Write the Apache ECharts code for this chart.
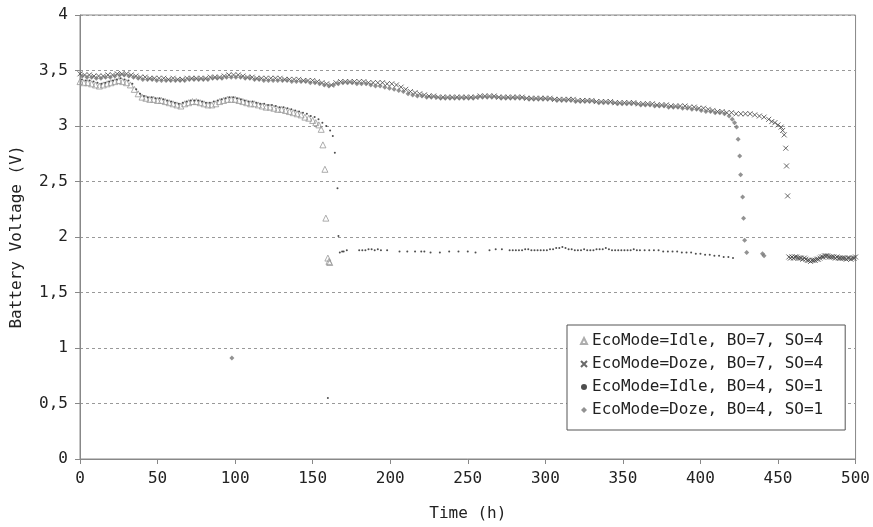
<!DOCTYPE html>
<html><head><meta charset="utf-8">
<script src="https://cdn.jsdelivr.net/npm/echarts@6/dist/echarts.min.js"></script>
<style>html,body{margin:0;padding:0;background:#fff}#c{width:873px;height:527px}</style>
</head><body><div id="c"></div>
<script>
const seriesNames = ['EcoMode=Idle, BO=7, SO=4','EcoMode=Doze, BO=7, SO=4','EcoMode=Idle, BO=4, SO=1','EcoMode=Doze, BO=4, SO=1'];
const xTicks = {min:0, max:500, step:50};
const yTicks = {min:0, max:4, step:0.5};

const idleBO7 = [[0,3.40],[2.5,3.39],[5,3.39],[7.5,3.38],[10,3.37],[12.5,3.36],[15,3.37],[17.5,3.38],[20,3.39],[22.5,3.40],[25,3.41],[27.5,3.40],[30,3.39],[32.5,3.37],[35,3.33],[37.5,3.29],[40,3.26],[42.5,3.25],[45,3.24],[47.5,3.24],[50,3.23],[52.5,3.23],[55,3.22],[57.5,3.21],[60,3.20],[62.5,3.19],[65,3.18],[67.5,3.20],[70,3.21],[72.5,3.22],[75,3.22],[77.5,3.21],[80,3.20],[82.5,3.19],[85,3.19],[87.5,3.20],[90,3.22],[92.5,3.23],[95,3.24],[97.5,3.24],[100,3.24],[102.5,3.23],[105,3.22],[107.5,3.21],[110,3.20],[112.5,3.20],[115,3.19],[117.5,3.18],[120,3.17],[122.5,3.17],[125,3.16],[127.5,3.15],[130,3.15],[132.5,3.14],[135,3.13],[137.5,3.12],[140,3.11],[142.5,3.10],[145,3.08],[147.5,3.07],[150,3.05],[152,3.03],[154,3.01],[155.5,2.97],[156.6,2.83],[157.9,2.61],[158.5,2.17],[159.8,1.81],[160.5,1.78],[161,1.77]];

const dozeBO7 = [[0,3.47],[3,3.46],[6,3.46],[9,3.45],[12,3.45],[15,3.45],[18,3.46],[21,3.46],[24,3.47],[27,3.47],[30,3.47],[33,3.46],[36,3.45],[39,3.44],[42,3.44],[45,3.43],[48,3.43],[51,3.43],[54,3.43],[57,3.42],[60,3.43],[63,3.42],[66,3.42],[69,3.43],[72,3.43],[75,3.43],[78,3.43],[81,3.43],[84,3.44],[87,3.44],[90,3.44],[93,3.45],[96,3.46],[99,3.46],[102,3.46],[105,3.45],[108,3.44],[111,3.44],[114,3.43],[117,3.43],[120,3.43],[123,3.43],[126,3.43],[129,3.43],[132,3.42],[135,3.42],[138,3.42],[141,3.42],[144,3.41],[147,3.41],[150,3.41],[153,3.40],[156,3.39],[159,3.38],[162,3.37],[165,3.39],[168,3.40],[171,3.40],[174,3.40],[177,3.40],[180,3.40],[183,3.40],[186,3.39],[189,3.39],[192,3.39],[195,3.39],[198,3.38],[201,3.38],[204,3.37],[207,3.35],[210,3.33],[213,3.31],[216,3.30],[219,3.29],[222,3.28],[225,3.27],[228,3.27],[231,3.26],[234,3.26],[237,3.26],[240,3.26],[243,3.26],[246,3.26],[249,3.26],[252,3.26],[255,3.26],[258,3.27],[261,3.27],[264,3.27],[267,3.27],[270,3.26],[273,3.26],[276,3.26],[279,3.26],[282,3.26],[285,3.26],[288,3.25],[291,3.25],[294,3.25],[297,3.25],[300,3.25],[303,3.25],[306,3.24],[309,3.24],[312,3.24],[315,3.24],[318,3.24],[321,3.23],[324,3.23],[327,3.23],[330,3.23],[333,3.22],[336,3.22],[339,3.22],[342,3.22],[345,3.21],[348,3.21],[351,3.21],[354,3.21],[357,3.21],[360,3.20],[363,3.20],[366,3.20],[369,3.20],[372,3.19],[375,3.19],[378,3.19],[381,3.18],[384,3.18],[387,3.18],[390,3.18],[393,3.17],[396,3.17],[399,3.16],[402,3.16],[405,3.15],[408,3.14],[411,3.13],[414,3.13],[417,3.12],[420,3.12],[423,3.11],[426,3.11],[429,3.11],[432,3.11],[435,3.10],[438,3.09],[441,3.08],[444,3.06],[446,3.04],[448,3.03],[450,3.01],[452,2.99],[453,2.96],[454,2.92],[455,2.80],[455.5,2.64],[456.2,2.37],[457,1.82],[458,1.81],[459,1.82],[460,1.81],[461,1.82],[462,1.82],[463,1.81],[464,1.81],[465,1.81],[466,1.80],[467,1.81],[468,1.80],[469,1.79],[470,1.79],[471,1.78],[472,1.79],[473,1.79],[474,1.79],[475,1.80],[476,1.80],[477,1.81],[478,1.82],[479,1.82],[480,1.83],[481,1.83],[482,1.83],[483,1.82],[484,1.82],[485,1.82],[486,1.82],[487,1.81],[488,1.82],[489,1.81],[490,1.81],[491,1.81],[492,1.81],[493,1.81],[494,1.80],[495,1.81],[496,1.81],[497,1.80],[498,1.81],[499,1.81],[500,1.82]];

const idleBO4 = [[1.25,3.42],[3.75,3.41],[6.25,3.41],[8.75,3.40],[11.25,3.39],[13.75,3.38],[16.25,3.39],[18.75,3.40],[21.25,3.41],[23.75,3.42],[26.25,3.43],[28.75,3.42],[31.25,3.41],[33.75,3.38],[36.25,3.33],[38.75,3.29],[41.25,3.27],[43.75,3.26],[46.25,3.26],[48.75,3.25],[51.25,3.25],[53.75,3.24],[56.25,3.23],[58.75,3.22],[61.25,3.21],[63.75,3.20],[66.25,3.21],[68.75,3.22],[71.25,3.23],[73.75,3.23],[76.25,3.23],[78.75,3.22],[81.25,3.21],[83.75,3.21],[86.25,3.22],[88.75,3.23],[91.25,3.24],[93.75,3.25],[96.25,3.26],[98.75,3.26],[101.25,3.25],[103.75,3.24],[106.25,3.23],[108.75,3.22],[111.25,3.22],[113.75,3.21],[116.25,3.20],[118.75,3.20],[121.25,3.19],[123.75,3.19],[126.25,3.18],[128.75,3.17],[131.25,3.17],[133.75,3.16],[136.25,3.15],[138.75,3.14],[141.25,3.13],[143.75,3.12],[146.25,3.11],[148.75,3.09],[151.25,3.08],[153.75,3.06],[156.25,3.03],[158.75,3.00],[159.8,0.55],[161.25,2.96],[163,2.91],[164.3,2.76],[166,2.44],[166.6,2.01],[167.5,1.86],[169,1.87],[170,1.87],[172,1.88],[180,1.88],[182,1.88],[184,1.88],[186,1.89],[188,1.89],[190,1.88],[192,1.89],[194,1.88],[198,1.88],[206,1.87],[211,1.87],[216,1.87],[220,1.87],[222,1.87],[226,1.86],[232,1.86],[238,1.87],[244,1.87],[250,1.87],[255,1.86],[264,1.88],[268,1.89],[272,1.89],[277,1.88],[279,1.88],[281,1.88],[283,1.88],[285,1.88],[287,1.89],[289,1.89],[291,1.88],[293,1.88],[295,1.88],[297,1.88],[299,1.88],[301,1.88],[303,1.89],[305,1.89],[307,1.90],[309,1.90],[311,1.91],[313,1.90],[315,1.89],[317,1.89],[319,1.88],[321,1.88],[323,1.88],[325,1.89],[327,1.88],[329,1.88],[331,1.88],[333,1.89],[335,1.89],[337,1.89],[339,1.90],[341,1.89],[343,1.88],[345,1.88],[347,1.88],[349,1.88],[351,1.88],[353,1.88],[355,1.88],[357,1.89],[359,1.88],[361,1.88],[364,1.88],[367,1.88],[370,1.88],[373,1.88],[376,1.87],[379,1.87],[382,1.87],[385,1.87],[388,1.86],[391,1.86],[394,1.86],[397,1.85],[400,1.85],[403,1.84],[406,1.84],[409,1.83],[412,1.83],[415,1.82],[418,1.82],[421,1.81]];

const dozeBO4 = [[1.5,3.45],[4.5,3.44],[7.5,3.44],[10.5,3.43],[13.5,3.43],[16.5,3.44],[19.5,3.44],[22.5,3.45],[25.5,3.46],[28.5,3.46],[31.5,3.45],[34.5,3.44],[37.5,3.43],[40.5,3.42],[43.5,3.42],[46.5,3.42],[49.5,3.41],[52.5,3.41],[55.5,3.41],[58.5,3.41],[61.5,3.41],[64.5,3.41],[67.5,3.41],[70.5,3.42],[73.5,3.42],[76.5,3.42],[79.5,3.42],[82.5,3.42],[85.5,3.43],[88.5,3.43],[91.5,3.43],[94.5,3.44],[97.5,3.44],[97.9,0.91],[100.5,3.44],[103.5,3.44],[106.5,3.43],[109.5,3.43],[112.5,3.42],[115.5,3.42],[118.5,3.41],[121.5,3.41],[124.5,3.41],[127.5,3.41],[130.5,3.41],[133.5,3.41],[136.5,3.40],[139.5,3.40],[142.5,3.40],[145.5,3.40],[148.5,3.39],[151.5,3.39],[154.5,3.38],[157.5,3.37],[160.5,3.36],[163.5,3.37],[166.5,3.38],[169.5,3.39],[172.5,3.39],[175.5,3.39],[178.5,3.38],[181.5,3.38],[184.5,3.38],[187.5,3.37],[190.5,3.36],[193.5,3.36],[196.5,3.35],[199.5,3.34],[202.5,3.33],[205.5,3.32],[208.5,3.31],[211.5,3.29],[214.5,3.28],[217.5,3.27],[220.5,3.27],[223.5,3.26],[226.5,3.26],[229.5,3.26],[232.5,3.25],[235.5,3.25],[238.5,3.25],[241.5,3.25],[244.5,3.25],[247.5,3.25],[250.5,3.25],[253.5,3.25],[256.5,3.26],[259.5,3.26],[262.5,3.26],[265.5,3.26],[268.5,3.26],[271.5,3.25],[274.5,3.25],[277.5,3.25],[280.5,3.25],[283.5,3.25],[286.5,3.25],[289.5,3.24],[292.5,3.24],[295.5,3.24],[298.5,3.24],[301.5,3.24],[304.5,3.24],[307.5,3.23],[310.5,3.23],[313.5,3.23],[316.5,3.23],[319.5,3.22],[322.5,3.22],[325.5,3.22],[328.5,3.22],[331.5,3.22],[334.5,3.21],[337.5,3.21],[340.5,3.21],[343.5,3.21],[346.5,3.20],[349.5,3.20],[352.5,3.20],[355.5,3.20],[358.5,3.20],[361.5,3.19],[364.5,3.19],[367.5,3.19],[370.5,3.18],[373.5,3.18],[376.5,3.18],[379.5,3.17],[382.5,3.17],[385.5,3.17],[388.5,3.16],[391.5,3.16],[394.5,3.15],[397.5,3.15],[400.5,3.14],[403.5,3.13],[406.5,3.13],[409.5,3.12],[412.5,3.12],[415.5,3.11],[418.5,3.09],[420.5,3.06],[422,3.03],[423.3,2.99],[424.3,2.88],[425.3,2.73],[425.9,2.56],[427.2,2.36],[427.8,2.17],[428.5,1.97],[429.8,1.86],[440,1.85],[441,1.83]];

const FONT = 'DejaVu Sans Mono';
const chart = echarts.init(document.getElementById('c'), null, {renderer:'canvas'});
const fmt = v => String(v).replace('.', ',');
chart.setOption({
  animation: false,
  backgroundColor: '#fff',
  textStyle: {fontFamily: FONT},
  grid: {left: 80, right: 17, top: 15, bottom: 66, show: true, borderColor: '#888', borderWidth: 1, backgroundColor: 'transparent'},
  legend: {
    orient: 'vertical', left: 567, top: 325,
    padding: [8, 22, 12, 13], itemGap: 7, itemWidth: 6, itemHeight: 6,
    backgroundColor: '#fff', borderColor: '#555', borderWidth: 1,
    textStyle: {fontFamily: FONT, fontSize: 16, color: '#222'},
    data: seriesNames
  },
  xAxis: {
    type: 'value', min: xTicks.min, max: xTicks.max, interval: xTicks.step,
    name: 'Time (h)', nameLocation: 'middle', nameGap: 47,
    nameTextStyle: {fontFamily: FONT, fontSize: 16, color: '#222'},
    axisLine: {show: true, lineStyle: {color: '#888'}},
    axisTick: {show: true, length: 5, lineStyle: {color: '#888'}},
    axisLabel: {fontFamily: FONT, fontSize: 16, color: '#222', margin: 12},
    splitLine: {show: false}
  },
  yAxis: {
    type: 'value', min: yTicks.min, max: yTicks.max, interval: yTicks.step,
    name: 'Battery Voltage (V)', nameLocation: 'middle', nameGap: 55,
    nameTextStyle: {fontFamily: FONT, fontSize: 16, color: '#222'},
    axisLine: {show: true, lineStyle: {color: '#888'}},
    axisTick: {show: true, length: 5, lineStyle: {color: '#888'}},
    axisLabel: {fontFamily: FONT, fontSize: 16, color: '#222', margin: 12, formatter: fmt},
    splitLine: {show: true, lineStyle: {color: '#999', type: [3, 3], width: 1}}
  },
  series: [
    {name: seriesNames[0], type: 'scatter', data: idleBO7, symbol: 'triangle', symbolSize: 6,
     itemStyle: {color: 'rgba(255,255,255,0)', borderColor: '#999', borderWidth: 1}},
    {name: seriesNames[1], type: 'scatter', data: dozeBO7, symbol: 'path://M0,0L10,10M0,10L10,0', symbolSize: 5,
     itemStyle: {color: 'rgba(255,255,255,0)', borderColor: '#444', borderWidth: 1}},
    {name: seriesNames[2], type: 'scatter', data: idleBO4, symbol: 'circle', symbolSize: 2,
     itemStyle: {color: '#222'}},
    {name: seriesNames[3], type: 'scatter', data: dozeBO4, symbol: 'diamond', symbolSize: 5,
     itemStyle: {color: '#777'}}
  ]
});
</script></body></html>
